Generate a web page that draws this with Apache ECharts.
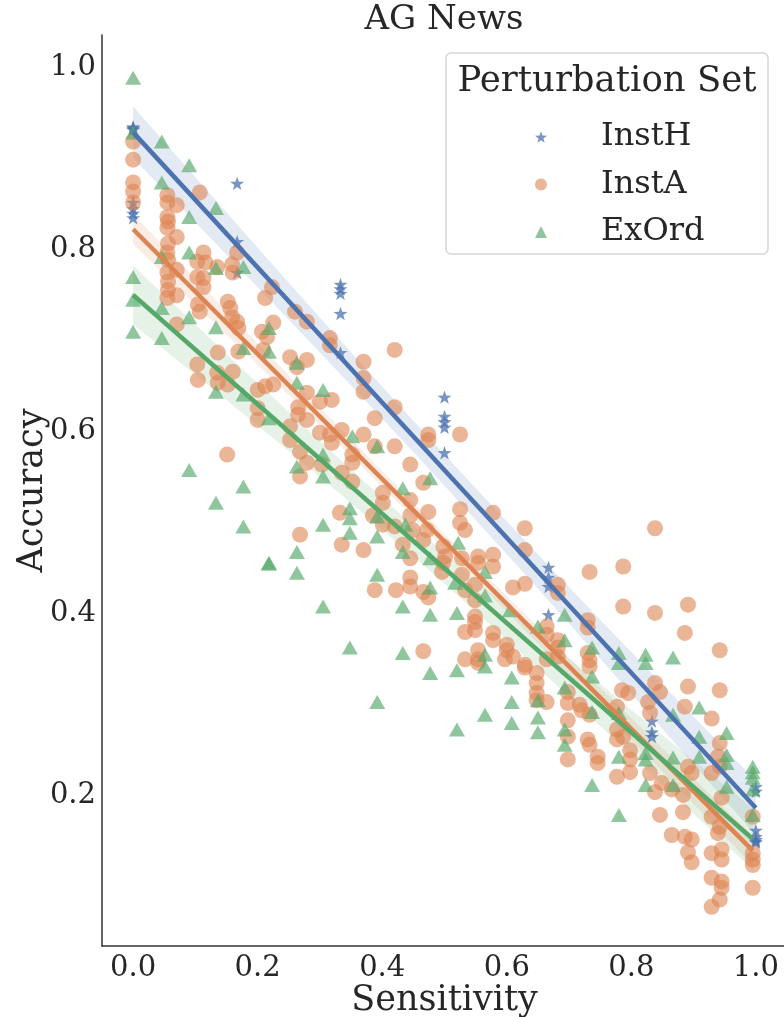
<!DOCTYPE html>
<html><head><meta charset="utf-8">
<script src="https://cdn.jsdelivr.net/npm/echarts@6/dist/echarts.min.js"></script>
<style>html,body{margin:0;padding:0;background:#fff}#c{width:784px;height:1017px}</style>
</head><body><div id="c"></div>
<script>
const seriesNames = ['InstH', 'InstA', 'ExOrd'];
const colors = ['#4C72B0', '#DD8452', '#55A868'];
const xTicks = [0.0, 0.2, 0.4, 0.6, 0.8, 1.0];
const yTicks = [0.2, 0.4, 0.6, 0.8, 1.0];

const instH = [[0,0.935],[0,0.934],[0,0.933],[0,0.932],[0,0.852],[0,0.845],[0,0.84],[0,0.835],
[0.167,0.873],[0.167,0.809],[0.167,0.775],
[0.333,0.762],[0.333,0.757],[0.333,0.752],[0.333,0.73],[0.333,0.687],
[0.5,0.638],[0.5,0.617],[0.5,0.611],[0.5,0.605],[0.5,0.577],
[0.667,0.451],[0.667,0.44],[0.667,0.43],[0.667,0.399],
[0.833,0.282],[0.833,0.27],[0.833,0.265],
[1,0.21],[1,0.205],[1,0.162],[1,0.155],[1,0.152],[1,0.15],[1,0.149]];

const instA = [[0,0.919],[0,0.899],[0,0.874],[0,0.864],[0,0.852],
[0.107,0.863],[0.055,0.86],[0.055,0.852],[0.07,0.849],[0.055,0.836],[0.056,0.831],[0.055,0.824],[0.07,0.814],[0.056,0.807],[0.055,0.797],[0.113,0.797],[0.103,0.787],[0.116,0.786],[0.056,0.789],[0.07,0.778],[0.055,0.775],[0.103,0.77],[0.113,0.769],[0.135,0.781],[0.159,0.784],[0.16,0.775],[0.167,0.797],[0.056,0.765],[0.056,0.756],[0.07,0.75],[0.055,0.747],[0.113,0.759],[0.104,0.74],[0.107,0.732],[0.152,0.743],[0.156,0.736],[0.159,0.726],[0.167,0.721],[0.169,0.714],[0.207,0.71],[0.215,0.704],[0.225,0.72],[0.212,0.747],[0.223,0.759],[0.07,0.718],[0.169,0.688],[0.209,0.69],[0.136,0.687],[0.252,0.682],[0.26,0.732],[0.279,0.721],[0.316,0.703],[0.279,0.679],
[0.103,0.674],[0.104,0.657],[0.135,0.665],[0.16,0.666],[0.136,0.654],[0.152,0.652],[0.2,0.646],[0.212,0.65],[0.225,0.652],[0.2,0.626],[0.2,0.613],[0.263,0.671],[0.279,0.643],[0.265,0.627],[0.265,0.619],[0.279,0.613],[0.252,0.606],[0.252,0.591],[0.268,0.578],[0.279,0.566],[0.268,0.551],[0.151,0.575],[0.268,0.487],[0.3,0.633],[0.3,0.599],[0.303,0.564],
[0.316,0.695],[0.42,0.69],[0.37,0.677],[0.37,0.659],[0.37,0.644],[0.319,0.635],[0.42,0.627],[0.388,0.615],[0.335,0.602],[0.37,0.597],[0.316,0.597],[0.474,0.597],[0.474,0.591],[0.525,0.597],[0.319,0.588],[0.352,0.575],[0.42,0.584],[0.388,0.584],[0.352,0.566],[0.445,0.564],[0.335,0.555],[0.466,0.544],[0.352,0.545],[0.401,0.533],[0.445,0.525],[0.401,0.522],[0.474,0.512],[0.525,0.515],[0.578,0.511],[0.445,0.508],[0.332,0.511],[0.385,0.508],[0.401,0.498],[0.525,0.5],[0.533,0.492],[0.42,0.496],[0.449,0.492],[0.472,0.492],[0.629,0.494],[0.433,0.476],[0.466,0.481],[0.335,0.476],[0.37,0.47],[0.498,0.474],[0.501,0.463],[0.445,0.461],[0.528,0.461],[0.554,0.463],[0.578,0.465],[0.578,0.452],[0.554,0.456],[0.629,0.47],[0.498,0.456],[0.445,0.44],
[0.388,0.426],[0.422,0.426],[0.445,0.43],[0.466,0.424],[0.474,0.418],[0.496,0.446],[0.528,0.443],[0.549,0.432],[0.533,0.426],[0.549,0.415],[0.61,0.429],[0.629,0.433],[0.549,0.397],[0.549,0.391],[0.549,0.382],[0.533,0.38],[0.578,0.379],[0.578,0.371],[0.6,0.366],[0.6,0.36],[0.61,0.353],[0.554,0.36],[0.554,0.35],[0.554,0.346],[0.533,0.35],[0.597,0.35],[0.466,0.359],[0.629,0.344],[0.629,0.341],[0.648,0.335],[0.648,0.324],[0.648,0.313],[0.648,0.305],[0.664,0.303],
[0.733,0.446],[0.787,0.452],[0.682,0.432],[0.682,0.423],[0.787,0.408],[0.838,0.401],[0.891,0.41],[0.886,0.379],[0.942,0.36],[0.73,0.393],[0.73,0.385],[0.664,0.386],[0.664,0.377],[0.682,0.371],[0.682,0.363],[0.682,0.353],[0.664,0.35],[0.73,0.357],[0.733,0.349],[0.733,0.342],[0.838,0.324],[0.846,0.314],[0.891,0.32],[0.942,0.316],[0.785,0.316],[0.795,0.313],[0.698,0.314],[0.698,0.302],[0.717,0.3],[0.72,0.294],[0.733,0.289],[0.777,0.298],[0.827,0.303],[0.83,0.291],[0.886,0.298],[0.929,0.285],[0.698,0.283],[0.698,0.265],[0.73,0.262],[0.733,0.256],[0.746,0.243],[0.746,0.236],[0.698,0.24],[0.777,0.273],[0.777,0.262],[0.798,0.25],[0.798,0.24],[0.798,0.226],[0.777,0.221],[0.787,0.265],[0.83,0.225],[0.838,0.204],[0.849,0.214],[0.865,0.207],[0.846,0.179],[0.883,0.201],[0.883,0.182],[0.891,0.232],[0.897,0.225],[0.865,0.157],[0.886,0.155],[0.897,0.152],[0.891,0.138],[0.897,0.127],[0.929,0.137],[0.945,0.141],[0.945,0.13],[0.929,0.11],[0.945,0.106],[0.945,0.099],[0.939,0.159],[0.942,0.166],[0.929,0.177],[0.945,0.198],[0.942,0.258],[0.939,0.243],[0.942,0.232],[0.929,0.225],[0.995,0.137],[0.995,0.13],[0.995,0.124],[0.995,0.099],[0.995,0.177],[0.929,0.078],[0.942,0.086],[0.838,0.494]];

const exOrd = [[0,0.989],[0,0.929],[0.046,0.919],[0.09,0.893],[0.046,0.874],[0.133,0.846],[0.09,0.836],[0.09,0.797],[0.046,0.792],[0.133,0.78],[0.177,0.781],[0,0.77],[0,0.745],[0.046,0.736],[0.09,0.726],[0.133,0.715],[0,0.71],[0.046,0.703],[0.218,0.714],[0.177,0.692],[0.218,0.688],
[0.133,0.644],[0.177,0.641],[0.218,0.615],[0.263,0.676],[0.263,0.654],[0.305,0.646],[0.305,0.575],[0.263,0.562],[0.305,0.551],[0.09,0.558],[0.177,0.54],[0.133,0.522],[0.177,0.496],[0.218,0.456],[0.218,0.455],[0.263,0.468],[0.263,0.445],[0.305,0.498],[0.305,0.408],
[0.352,0.595],[0.392,0.584],[0.433,0.538],[0.477,0.549],[0.348,0.516],[0.348,0.505],[0.392,0.507],[0.348,0.489],[0.392,0.485],[0.437,0.498],[0.433,0.468],[0.477,0.461],[0.522,0.478],[0.565,0.446],[0.392,0.443],[0.477,0.429],[0.517,0.434],[0.565,0.42],[0.433,0.408],[0.477,0.399],[0.52,0.401],[0.605,0.404],[0.65,0.386],[0.348,0.363],[0.433,0.357],[0.565,0.355],[0.565,0.342],[0.477,0.335],[0.52,0.338],[0.608,0.33],[0.392,0.303],[0.608,0.303],[0.65,0.305],[0.565,0.289],[0.608,0.28],[0.65,0.286],[0.52,0.273],[0.65,0.27],
[0.693,0.399],[0.693,0.371],[0.737,0.363],[0.737,0.331],[0.693,0.319],[0.78,0.357],[0.78,0.346],[0.823,0.355],[0.823,0.346],[0.867,0.352],[0.737,0.292],[0.78,0.291],[0.693,0.273],[0.693,0.256],[0.737,0.212],[0.78,0.243],[0.78,0.179],[0.823,0.247],[0.823,0.24],[0.823,0.212],[0.867,0.289],[0.867,0.242],[0.867,0.212],[0.909,0.297],[0.909,0.265],[0.909,0.243],[0.953,0.269],[0.953,0.245],[0.953,0.236],[0.953,0.21],[0.995,0.232],[0.995,0.226],[0.995,0.22],[0.995,0.207],[0.995,0.179]];

const STAR = 'path://M0,-10L2.35,-3.24L9.51,-3.09L3.8,1.24L5.88,8.09L0,4L-5.88,8.09L-3.8,1.24L-9.51,-3.09L-2.35,-3.24Z';
const FONT = 'DejaVu Serif';
const TXT = '#262626';

function fit(d) {
  const n = d.length;
  let mx = 0, my = 0;
  d.forEach(p => { mx += p[0]; my += p[1]; });
  mx /= n; my /= n;
  let sxx = 0, sxy = 0;
  d.forEach(p => { sxx += (p[0]-mx)*(p[0]-mx); sxy += (p[0]-mx)*(p[1]-my); });
  const b = sxy / sxx, a = my - b * mx;
  let sse = 0;
  d.forEach(p => { const r = p[1] - (a + b*p[0]); sse += r*r; });
  const s = Math.sqrt(sse / (n - 2));
  const t = 1.96 + 2.4 / (n - 2);
  const xs0 = Math.min(...d.map(p => p[0])), xs1 = Math.max(...d.map(p => p[0]));
  const upper = [], lower = [];
  for (let i = 0; i <= 60; i++) {
    const x = xs0 + (xs1 - xs0) * i / 60;
    const yh = a + b * x;
    const h = t * s * Math.sqrt(1/n + (x-mx)*(x-mx)/sxx);
    upper.push([x, yh + h]); lower.push([x, yh - h]);
  }
  return { line: [[xs0, a + b*xs0], [xs1, a + b*xs1]], upper, lower };
}

const datasets = [instH, instA, exOrd];
const symbols = [STAR, 'circle', 'triangle'];
const sizes = [14, 16, [16, 14]];
const opac = [0.75, 0.6, 0.65];

const series = [];
datasets.forEach((d, i) => {
  const f = fit(d);
  series.push({
    type: 'custom', name: seriesNames[i] + ' CI', silent: true, z: 1,
    data: [[0, 0]],
    renderItem: (params, api) => {
      const pts = f.upper.map(p => api.coord(p)).concat(f.lower.slice().reverse().map(p => api.coord(p)));
      return { type: 'polygon', shape: { points: pts }, style: { fill: colors[i], opacity: 0.15 } };
    }
  });
});
datasets.forEach((d, i) => {
  series.push({
    type: 'scatter', name: seriesNames[i], data: d, symbol: symbols[i], symbolSize: sizes[i],
    symbolKeepAspect: true, z: 2,
    itemStyle: { color: colors[i], opacity: opac[i] }
  });
});
datasets.forEach((d, i) => {
  const f = fit(d);
  series.push({
    type: 'line', name: seriesNames[i] + ' fit', data: f.line, showSymbol: false, z: 3, silent: true,
    lineStyle: { color: colors[i], width: 4.5 }
  });
});

const chart = echarts.init(document.getElementById('c'), null, { renderer: 'canvas' });
chart.setOption({
  animation: false,
  backgroundColor: '#fff',
  grid: { left: 102, right: -3, top: 35, bottom: 71, outerBoundsMode: 'none', containLabel: false },
  xAxis: {
    type: 'value', min: -0.05, max: 1.05,
    name: 'Sensitivity', nameLocation: 'middle', nameGap: 37, nameMoveOverlap: false,
    nameTextStyle: { fontFamily: FONT, fontSize: 35, color: TXT },
    axisLine: { show: true, onZero: false, lineStyle: { color: '#333', width: 1.5 } },
    axisTick: { show: false }, splitLine: { show: false },
    axisLabel: { customValues: xTicks, formatter: v => v.toFixed(1), fontFamily: FONT, fontSize: 29, color: TXT, margin: 8 }
  },
  yAxis: {
    type: 'value', min: 0.035, max: 1.036,
    name: 'Accuracy', nameLocation: 'middle', nameGap: 52, nameRotate: 90, nameMoveOverlap: false,
    nameTextStyle: { fontFamily: FONT, fontSize: 35, color: TXT },
    axisLine: { show: true, onZero: false, lineStyle: { color: '#333', width: 1.5 } },
    axisTick: { show: false }, splitLine: { show: false },
    axisLabel: { customValues: yTicks, formatter: v => v.toFixed(1), fontFamily: FONT, fontSize: 29, color: TXT, margin: 6 }
  },
  legend: {
    data: seriesNames.map((n, i) => ({ name: n, icon: symbols[i] })),
    orient: 'vertical', left: 530, top: 114, itemWidth: 12, itemHeight: 12, itemGap: 11.5,
    textStyle: { fontFamily: FONT, fontSize: 32, color: TXT, lineHeight: 36, padding: [0, 0, 0, 49] },
    z: 20
  },
  graphic: [
    { type: 'rect', z: 15, shape: { x: 446, y: 53, width: 322, height: 201, r: 5 },
      style: { fill: 'rgba(255,255,255,0.85)', stroke: '#d6d6d6', lineWidth: 1.5 } },
    { type: 'text', z: 16, x: 607, y: 82, style: { text: 'Perturbation Set', fontFamily: FONT, fontSize: 35.5, fill: TXT, textAlign: 'center', textVerticalAlign: 'middle' } },
    { type: 'text', z: 16, x: 444, y: 20, style: { text: 'AG News', fontFamily: FONT, fontSize: 34, fill: TXT, textAlign: 'center', textVerticalAlign: 'middle' } }
  ],
  series
});
</script></body></html>
